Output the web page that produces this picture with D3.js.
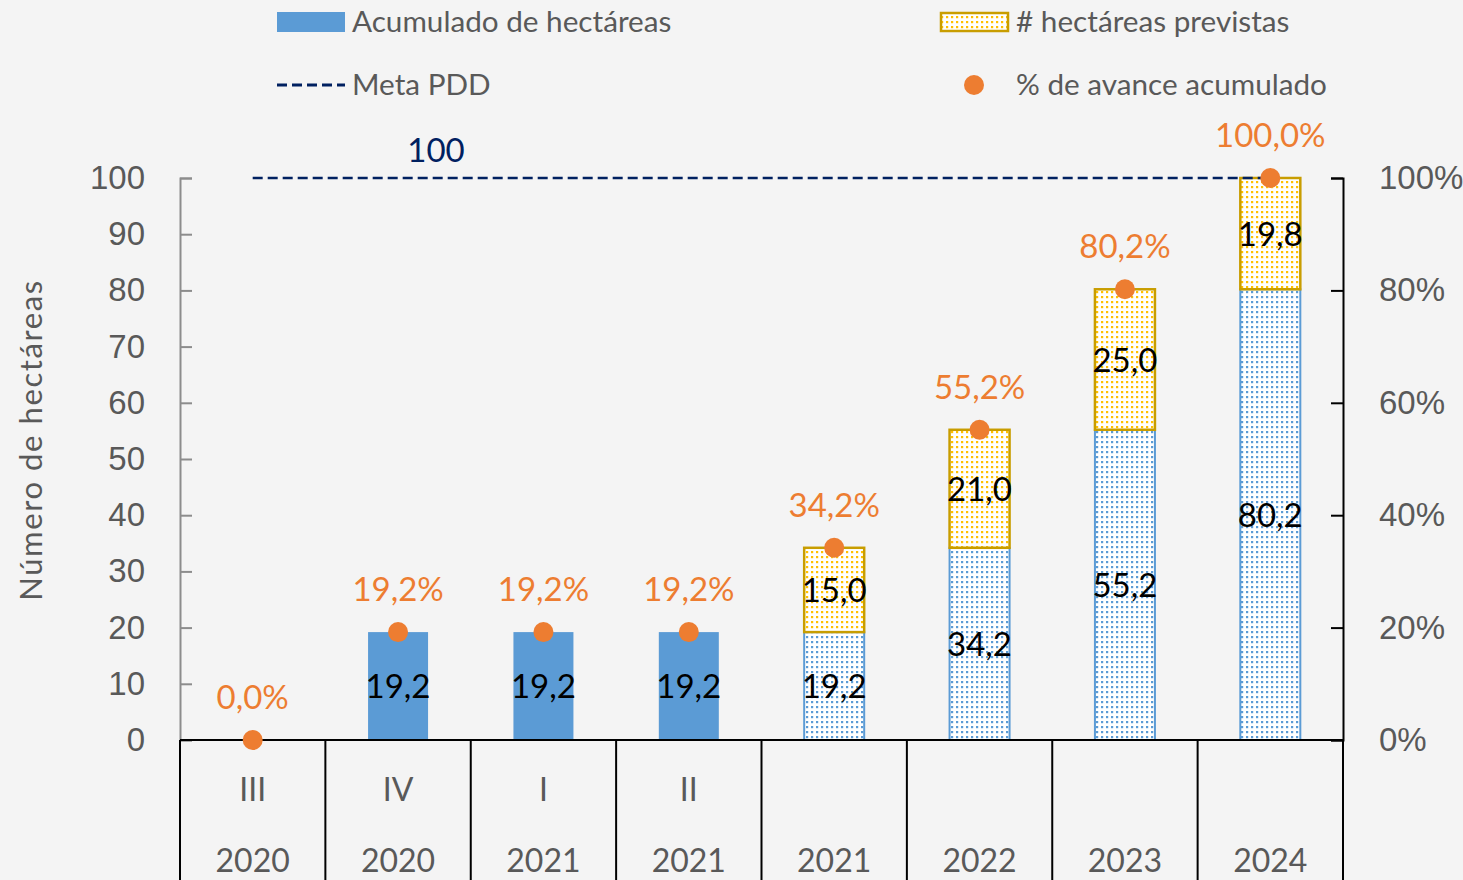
<!DOCTYPE html>
<html>
<head>
<meta charset="utf-8">
<script src="https://cdn.jsdelivr.net/npm/d3@7"></script>
<style>
  body { margin: 0; background: #f4f4f4; }
  svg { display: block; font-family: Lato, "Open Sans", sans-serif; }
</style>
</head>
<body>
<div id="chart"></div>
<script>
// Data
var periods   = ['III', 'IV', 'I', 'II', '', '', '', ''];
var years     = ['2020', '2020', '2021', '2021', '2021', '2022', '2023', '2024'];
var acumulado = [0, 19.2, 19.2, 19.2, 19.2, 34.2, 55.2, 80.2];
var previstas = [0, 0, 0, 0, 15.0, 21.0, 25.0, 19.8];
var avance    = [0.0, 19.2, 19.2, 19.2, 34.2, 55.2, 80.2, 100.0];
var proyectado = [false, false, false, false, true, true, true, true];
var metaPDD   = 100;
var yTicks    = [0, 10, 20, 30, 40, 50, 60, 70, 80, 90, 100];
var pctTicks  = [0, 20, 40, 60, 80, 100];

var chart_width  = 1463;
var chart_height = 880;
var pLeft = 180, pRight = 1343, pTop = 178, pBottom = 740;

var fmt = function(v){ return d3.format('.1f')(v).replace('.', ','); };

var svg = d3.select('#chart')
    .append('svg')
    .attr('width', chart_width)
    .attr('height', chart_height);

// patterns
var defs = svg.append('defs');
function dots(id, color){
    var p = defs.append('pattern')
        .attr('id', id)
        .attr('patternUnits', 'userSpaceOnUse')
        .attr('width', 5).attr('height', 5);
    p.append('rect').attr('width', 5).attr('height', 5).attr('fill', '#fff');
    p.append('rect').attr('x', 1).attr('y', 1).attr('width', 2.2).attr('height', 2.2).attr('fill', color);
}
dots('dotBlue', '#5b9bd5');
dots('dotYellow', '#ffc000');

var x = d3.scaleBand()
    .domain(d3.range(years.length))
    .range([pLeft, pRight]);

var y = d3.scaleLinear().domain([0, 100]).range([pBottom, pTop]);
var yPct = d3.scaleLinear().domain([0, 100]).range([pBottom, pTop]);

var barW = 60;
var cx = function(i){ return x(i) + x.bandwidth() / 2; };

// left axis
var yAxis = svg.append('g')
    .attr('transform', 'translate(' + pLeft + ',0)')
    .call(d3.axisLeft(y).tickValues(yTicks).tickSize(-12).tickPadding(35));
yAxis.select('.domain').attr('stroke', '#8c8c8c').attr('stroke-width', 2);
yAxis.selectAll('.tick line').attr('stroke', '#8c8c8c').attr('stroke-width', 2);
yAxis.selectAll('.tick text')
    .attr('fill', '#595959').attr('font-size', 33).attr('font-family', 'inherit');

// right axis
var yAxisR = svg.append('g')
    .attr('transform', 'translate(' + pRight + ',0)')
    .call(d3.axisRight(yPct).tickValues(pctTicks).tickSize(-12).tickPadding(36)
        .tickFormat(function(d){ return d + '%'; }));
yAxisR.select('.domain').attr('stroke', '#000').attr('stroke-width', 2);
yAxisR.selectAll('.tick line').attr('stroke', '#000').attr('stroke-width', 2);
yAxisR.selectAll('.tick text')
    .attr('fill', '#595959').attr('font-size', 33).attr('font-family', 'inherit');

// y title
svg.append('text')
    .attr('transform', 'translate(42,440) rotate(-90)')
    .attr('text-anchor', 'middle')
    .attr('fill', '#595959')
    .attr('font-size', 31)
    .attr('letter-spacing', 1.6)
    .text('Número de hectáreas');

// bars (acumulado)
svg.selectAll('rect.acum')
    .data(acumulado)
    .enter()
    .append('rect')
    .attr('class', 'acum')
    .attr('x', function(d, i){ return cx(i) - barW / 2; })
    .attr('y', function(d){ return y(d); })
    .attr('width', barW)
    .attr('height', function(d){ return y(0) - y(d); })
    .attr('fill', function(d, i){ return proyectado[i] ? 'url(#dotBlue)' : '#5b9bd5'; })
    .attr('stroke', function(d, i){ return proyectado[i] ? '#5b9bd5' : 'none'; })
    .attr('stroke-width', 2);

// bars (previstas)
previstas.forEach(function(d, i){
    if (d <= 0) return;
    svg.append('rect')
        .attr('class', 'prev')
        .attr('x', cx(i) - barW / 2)
        .attr('y', y(acumulado[i] + d))
        .attr('width', barW)
        .attr('height', y(acumulado[i]) - y(acumulado[i] + d))
        .attr('fill', 'url(#dotYellow)')
        .attr('stroke', '#c89d00')
        .attr('stroke-width', 2.5);
});

// x axis line + separators
svg.append('line')
    .attr('x1', pLeft).attr('x2', pRight)
    .attr('y1', pBottom).attr('y2', pBottom)
    .attr('stroke', '#000').attr('stroke-width', 2);
svg.selectAll('line.sep')
    .data(d3.range(years.length + 1))
    .enter()
    .append('line')
    .attr('class', 'sep')
    .attr('x1', function(i){ return pLeft + i * x.bandwidth(); })
    .attr('x2', function(i){ return pLeft + i * x.bandwidth(); })
    .attr('y1', pBottom).attr('y2', chart_height)
    .attr('stroke', '#000').attr('stroke-width', 2);

svg.selectAll('text.period')
    .data(periods)
    .enter()
    .append('text')
    .attr('x', function(d, i){ return cx(i); })
    .attr('y', 801)
    .attr('text-anchor', 'middle')
    .attr('fill', '#595959')
    .attr('font-size', 32)
    .text(function(d){ return d; });

svg.selectAll('text.year')
    .data(years)
    .enter()
    .append('text')
    .attr('x', function(d, i){ return cx(i); })
    .attr('y', 872)
    .attr('text-anchor', 'middle')
    .attr('fill', '#595959')
    .attr('font-size', 32)
    .text(function(d){ return d; });

// meta line
svg.append('line')
    .attr('x1', cx(0)).attr('x2', cx(years.length - 1))
    .attr('y1', y(metaPDD)).attr('y2', y(metaPDD))
    .attr('stroke', '#002060')
    .attr('stroke-width', 2.5)
    .attr('stroke-dasharray', '10,5');
svg.append('text')
    .attr('x', 436).attr('y', y(metaPDD) - 16)
    .attr('text-anchor', 'middle')
    .attr('fill', '#002060')
    .attr('font-size', 33)
    .text(metaPDD);

// data labels inside bars
acumulado.forEach(function(d, i){
    if (d <= 0) return;
    svg.append('text')
        .attr('x', cx(i))
        .attr('y', y(d / 2) + 12)
        .attr('text-anchor', 'middle')
        .attr('fill', '#000')
        .attr('font-size', 33)
        .text(fmt(d));
});
previstas.forEach(function(d, i){
    if (d <= 0) return;
    svg.append('text')
        .attr('x', cx(i))
        .attr('y', y(acumulado[i] + d / 2) + 12)
        .attr('text-anchor', 'middle')
        .attr('fill', '#000')
        .attr('font-size', 33)
        .text(fmt(d));
});

// % points
svg.selectAll('circle.pct')
    .data(avance)
    .enter()
    .append('circle')
    .attr('cx', function(d, i){ return cx(i); })
    .attr('cy', function(d){ return yPct(d); })
    .attr('r', 10)
    .attr('fill', '#ed7d31');

svg.selectAll('text.pctLbl')
    .data(avance)
    .enter()
    .append('text')
    .attr('x', function(d, i){ return cx(i); })
    .attr('y', function(d){ return yPct(d) - 31; })
    .attr('text-anchor', 'middle')
    .attr('fill', '#ed7d31')
    .attr('font-size', 33)
    .text(function(d){ return fmt(d) + '%'; });

// legend
var lg = svg.append('g').attr('font-size', 29.7).attr('fill', '#595959');
lg.append('rect').attr('x', 277).attr('y', 12).attr('width', 68).attr('height', 20).attr('fill', '#5b9bd5');
lg.append('text').attr('x', 352).attr('y', 32).text('Acumulado de hectáreas');
lg.append('rect').attr('x', 941).attr('y', 13).attr('width', 67).attr('height', 18)
    .attr('fill', 'url(#dotYellow)').attr('stroke', '#c89d00').attr('stroke-width', 2.5);
lg.append('text').attr('x', 1016).attr('y', 32).text('# hectáreas previstas');
lg.append('line').attr('x1', 277).attr('x2', 345).attr('y1', 85).attr('y2', 85)
    .attr('stroke', '#002060').attr('stroke-width', 3).attr('stroke-dasharray', '10,5');
lg.append('text').attr('x', 352).attr('y', 95).text('Meta PDD');
lg.append('circle').attr('cx', 974).attr('cy', 85).attr('r', 10).attr('fill', '#ed7d31');
lg.append('text').attr('x', 1016).attr('y', 95).text('% de avance acumulado');
</script>
</body>
</html>
